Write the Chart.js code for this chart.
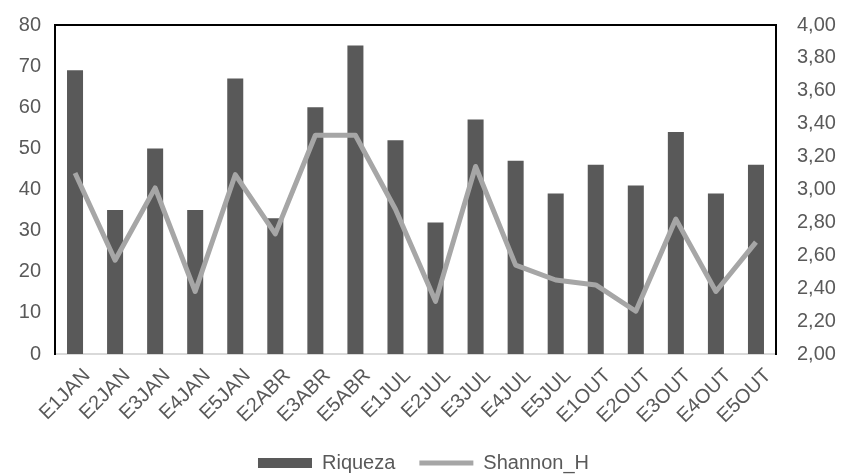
<!DOCTYPE html>
<html>
<head>
<meta charset="utf-8">
<script src="https://cdn.jsdelivr.net/npm/chart.js@4"></script>
<style>
  html, body { margin: 0; padding: 0; background: #fff; }
  #wrap { width: 847px; height: 475px; }
</style>
</head>
<body>
<div id="wrap"><canvas id="grafico"></canvas></div>
<script>
var categorias = ["E1JAN", "E2JAN", "E3JAN", "E4JAN", "E5JAN", "E2ABR", "E3ABR", "E5ABR", "E1JUL", "E2JUL", "E3JUL", "E4JUL", "E5JUL", "E1OUT", "E2OUT", "E3OUT", "E4OUT", "E5OUT"];
var riqueza = [69, 35, 50, 35, 67, 33, 60, 75, 52, 32, 57, 47, 39, 46, 41, 54, 39, 46];
var shannon = [3.10, 2.57, 3.01, 2.38, 3.09, 2.73, 3.33, 3.33, 2.88, 2.32, 3.14, 2.54, 2.45, 2.42, 2.26, 2.82, 2.38, 2.68];

var cinza = '#595959';
var fonte = { family: "'Liberation Sans', Arial, sans-serif", size: 20 };

// linha preta no topo da area do grafico
var bordaTopo = {
    id: 'bordaTopo',
    afterDraw: function(chart) {
        var a = chart.chartArea;
        var ctx = chart.ctx;
        ctx.save();
        ctx.strokeStyle = '#000';
        ctx.lineWidth = 2;
        ctx.beginPath();
        ctx.moveTo(a.left, a.top);
        ctx.lineTo(a.right, a.top);
        ctx.stroke();
        ctx.restore();
    }
};

var ctx = document.getElementById('grafico').getContext('2d');
var grafico = new Chart(ctx, {
    type: 'bar',
    data: {
        labels: categorias,
        datasets: [
            {
                label: 'Riqueza',
                data: riqueza,
                backgroundColor: cinza,
                barPercentage: 0.8,
                categoryPercentage: 0.5,
                yAxisID: 'y',
                pointStyle: 'rect'
            },
            {
                type: 'line',
                label: 'Shannon_H',
                data: shannon,
                borderColor: '#a6a6a6',
                backgroundColor: '#a6a6a6',
                borderWidth: 5,
                pointRadius: 0,
                tension: 0,
                borderJoinStyle: 'round',
                yAxisID: 'y1',
                pointStyle: 'line',
                order: -1
            }
        ]
    },
    options: {
        responsive: true,
        maintainAspectRatio: false,
        animation: false,
        layout: { padding: { top: 19, left: 0, right: 0, bottom: -8 } },
        plugins: {
            tooltip: { enabled: false },
            legend: {
                position: 'bottom',
                labels: {
                    usePointStyle: true,
                    pointStyleWidth: 54,
                    boxHeight: 10,
                    color: cinza,
                    font: fonte,
                    padding: 24,
                    sort: function(a, b) { return a.datasetIndex - b.datasetIndex; }
                }
            }
        },
        scales: {
            x: {
                grid: { display: false },
                border: { color: '#d9d9d9', width: 2 },
                ticks: { color: cinza, font: fonte, minRotation: 45, maxRotation: 45, autoSkip: false, padding: 2, labelOffset: 12 },
                afterFit: function(s) { s.height = 75; }
            },
            y: {
                position: 'left',
                min: 0,
                max: 80,
                grid: { display: false },
                border: { color: '#000', width: 2 },
                ticks: { stepSize: 10, color: cinza, font: fonte, padding: 6 },
                afterFit: function(s) { s.width = 55; }
            },
            y1: {
                position: 'right',
                min: 2,
                max: 4,
                grid: { display: false },
                border: { color: '#000', width: 2 },
                ticks: {
                    stepSize: 0.2,
                    color: cinza,
                    font: fonte,
                    padding: 13,
                    callback: function(v) { return v.toFixed(2).replace('.', ','); }
                },
                afterFit: function(s) { s.width = 71; }
            }
        }
    },
    plugins: [bordaTopo]
});
</script>
</body>
</html>
